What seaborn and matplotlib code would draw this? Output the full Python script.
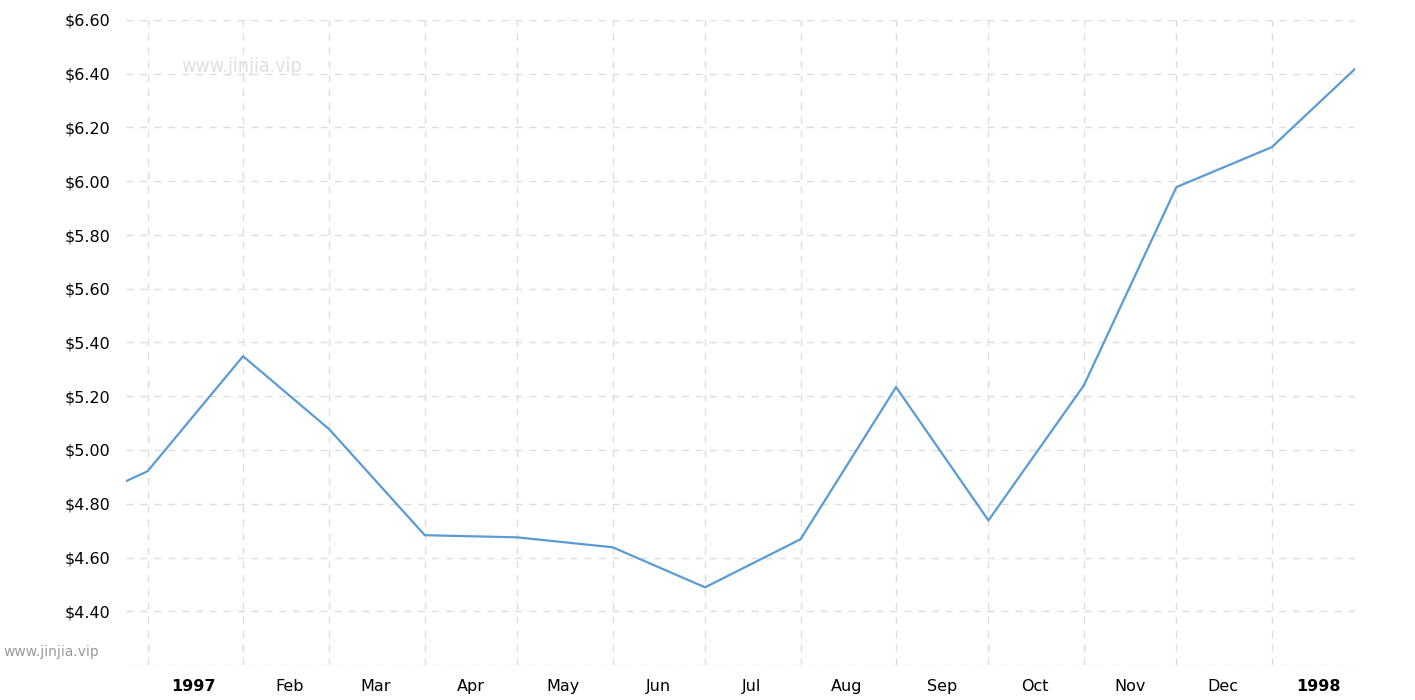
import matplotlib
matplotlib.use("Agg")
import matplotlib.pyplot as plt
import matplotlib.ticker as mticker
import seaborn as sns
import pandas as pd

# Monthly prices
dates = ["1996-12-25", "1997-01-01", "1997-02-01", "1997-03-01", "1997-04-01",
         "1997-05-01", "1997-06-01", "1997-07-01", "1997-08-01", "1997-09-01",
         "1997-10-01", "1997-11-01", "1997-12-01", "1998-01-01", "1998-01-28"]
prices = [4.884, 4.921, 5.349, 5.077, 4.683, 4.675, 4.638, 4.489, 4.668,
          5.234, 4.738, 5.241, 5.978, 6.127, 6.418]

month_labels = ["1997", "Feb", "Mar", "Apr", "May", "Jun", "Jul", "Aug",
                "Sep", "Oct", "Nov", "Dec", "1998"]
y_ticks = [4.2, 4.4, 4.6, 4.8, 5.0, 5.2, 5.4, 5.6, 5.8, 6.0, 6.2, 6.4, 6.6]

df = pd.DataFrame({"date": pd.to_datetime(dates), "price": prices})

sns.set_style("white")
plt.rcParams['font.family'] = ['DejaVu Sans']

fig = plt.figure(figsize=(14.15, 7), dpi=100)
ax = fig.add_axes([126 / 1415, 1 - 665 / 700, (1355 - 126) / 1415, 645 / 700])

sns.lineplot(data=df, x="date", y="price", ax=ax, color="#5b9bd5", linewidth=1.6)

ax.set_xlim(df["date"].iloc[0], df["date"].iloc[-1])
ax.set_ylim(4.2, 6.6)

# grid at month starts, labels at mid month
month_starts = pd.date_range("1997-01-01", "1998-01-01", freq="MS")
mid_months = month_starts + pd.Timedelta(days=15)
ax.set_xticks(month_starts)
ax.set_xticklabels([""] * len(month_starts))
ax.set_xticks(mid_months, minor=True)
ax.set_xticklabels(month_labels, minor=True)
for lbl in ax.get_xticklabels(minor=True):
    if lbl.get_text() in ("1997", "1998"):
        lbl.set_fontweight("bold")

ax.set_yticks(y_ticks)
ax.yaxis.set_major_formatter(mticker.FuncFormatter(
    lambda v, p: "" if v < 4.3 else f"${v:.2f}"))

ax.tick_params(axis="both", which="both", length=0, labelsize=11.5, colors="black")
ax.tick_params(axis="y", pad=11)
ax.tick_params(axis="x", which="minor", pad=10)

ax.grid(True, which="major", color="#dddddd", linestyle=(0, (5, 5)), linewidth=1)
for s in ax.spines.values():
    s.set_visible(False)
ax.set_xlabel("")
ax.set_ylabel("")

# watermarks
fig.text(242 / 1415, 1 - 66 / 700, "www.jinjia.vip",
         ha="center", va="center", fontsize=14, color="#e0e0e0",
         fontstretch="condensed")
fig.text(3 / 1415, 1 - 652 / 700, "www.jinjia.vip", ha="left", va="center",
         fontsize=10, color="#9a9a9a")

fig.savefig("out.png", dpi=100)
